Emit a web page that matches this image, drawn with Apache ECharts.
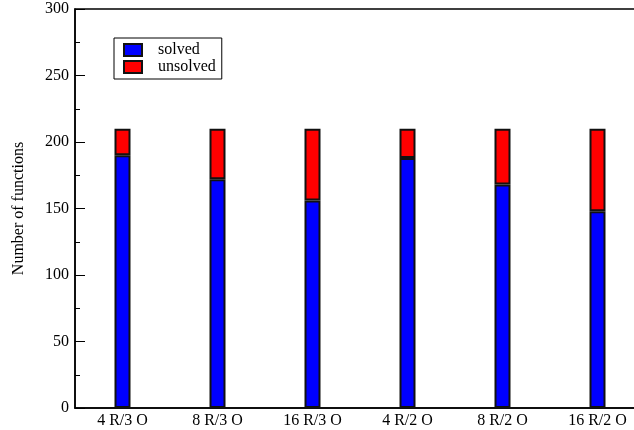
<!DOCTYPE html>
<html>
<head>
<meta charset="utf-8">
<script src="https://cdn.jsdelivr.net/npm/echarts@6/dist/echarts.min.js"></script>
<style>
html,body{margin:0;padding:0;background:#fff;}
#chart{width:634px;height:430px;}
</style>
</head>
<body>
<div id="chart"></div>
<script>
var categories = ['4 R/3 O', '8 R/3 O', '16 R/3 O', '4 R/2 O', '8 R/2 O', '16 R/2 O'];
var solved = [190, 172, 156, 188, 168, 148];
var unsolved = [20, 38, 54, 22, 42, 62];
var yTicks = [0, 50, 100, 150, 200, 250, 300];

var font = '"Liberation Serif", "Times New Roman", serif';

var myChart = echarts.init(document.getElementById('chart'));

var option = {
    animation: false,
    grid: {
        left: 75,
        top: 9,
        width: 570,
        height: 399,
        outerBoundsMode: 'none',
        containLabel: false,
        show: true,
        borderColor: '#000',
        borderWidth: 1.5,
        backgroundColor: 'transparent'
    },
    legend: {
        orient: 'vertical',
        left: 114,
        top: 38,
        data: ['solved', 'unsolved'],
        icon: 'rect',
        itemWidth: 18,
        itemHeight: 12,
        itemGap: 1,
        padding: [4, 6, 4, 9],
        borderColor: '#000',
        borderWidth: 1,
        backgroundColor: '#fff',
        selectedMode: false,
        itemStyle: {borderColor: '#111', borderWidth: 2},
        textStyle: {fontFamily: font, fontSize: 16, color: '#000', padding: [0, 0, 0, 11]}
    },
    xAxis: [{
        type: 'category',
        data: categories,
        axisLine: {lineStyle: {color: '#000', width: 1.5}},
        axisTick: {show: false},
        axisLabel: {fontFamily: font, fontSize: 16, color: '#000', margin: 5}
    }],
    yAxis: [{
        type: 'value',
        min: yTicks[0],
        max: yTicks[yTicks.length - 1],
        interval: 50,
        name: 'Number of functions',
        nameLocation: 'middle',
        nameGap: 48,
        nameTextStyle: {fontFamily: font, fontSize: 16, color: '#000'},
        axisLine: {show: true, lineStyle: {color: '#000', width: 1.5}},
        axisTick: {show: true, inside: true, length: 10, lineStyle: {color: '#000'}},
        minorTick: {show: true, splitNumber: 2, length: 5, lineStyle: {color: '#000'}},
        splitLine: {show: false},
        axisLabel: {fontFamily: font, fontSize: 16, color: '#000', margin: 6}
    }, {
        type: 'value',
        position: 'right',
        min: yTicks[0],
        max: yTicks[yTicks.length - 1],
        interval: 50,
        axisLine: {show: true, lineStyle: {color: '#000', width: 1.5}},
        axisTick: {show: true, inside: true, length: 10, lineStyle: {color: '#000'}},
        minorTick: {show: true, splitNumber: 2, length: 5, lineStyle: {color: '#000'}},
        splitLine: {show: false},
        axisLabel: {show: false}
    }],
    series: [{
        name: 'solved',
        type: 'bar',
        stack: 'total',
        barWidth: 16,
        itemStyle: {color: '#0000ff', borderColor: '#111', borderWidth: 2},
        data: solved
    }, {
        name: 'unsolved',
        type: 'bar',
        stack: 'total',
        barWidth: 16,
        itemStyle: {color: '#ff0000', borderColor: '#111', borderWidth: 2},
        data: unsolved
    }]
};

myChart.setOption(option);
</script>
</body>
</html>
